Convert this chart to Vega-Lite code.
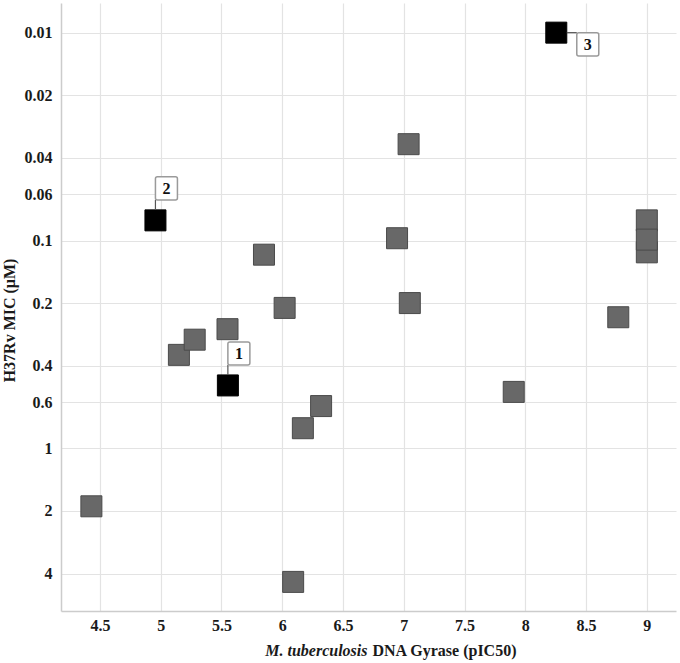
{
  "$schema": "https://vega.github.io/schema/vega-lite/v6.json",
  "width": 615,
  "height": 608,
  "autosize": {"type": "none"},
  "padding": {"left": 61, "top": 3, "right": 4, "bottom": 52},
  "background": "white",
  "config": {
    "view": {"stroke": null},
    "font": "Liberation Serif",
    "axis": {
      "labelFont": "Liberation Serif",
      "labelFontWeight": "bold",
      "labelFontSize": 16,
      "labelColor": "#1a1a1a",
      "titleFont": "Liberation Serif",
      "titleFontWeight": "bold",
      "titleFontSize": 16,
      "titleColor": "#1a1a1a",
      "gridColor": "#e3e3e3",
      "gridWidth": 1.2,
      "domainColor": "#cccccc",
      "domainWidth": 1.5,
      "ticks": false
    }
  },
  "data": {
    "values": [
      {"pic50": 4.43, "mic": 1.9, "label": "", "group": "other"},
      {"pic50": 5.15, "mic": 0.355, "label": "", "group": "other"},
      {"pic50": 5.28, "mic": 0.3, "label": "", "group": "other"},
      {"pic50": 5.55, "mic": 0.267, "label": "", "group": "other"},
      {"pic50": 5.85, "mic": 0.117, "label": "", "group": "other"},
      {"pic50": 6.02, "mic": 0.211, "label": "", "group": "other"},
      {"pic50": 6.09, "mic": 4.39, "label": "", "group": "other"},
      {"pic50": 6.17, "mic": 0.8, "label": "", "group": "other"},
      {"pic50": 6.32, "mic": 0.626, "label": "", "group": "other"},
      {"pic50": 6.945, "mic": 0.0975, "label": "", "group": "other"},
      {"pic50": 7.04, "mic": 0.0344, "label": "", "group": "other"},
      {"pic50": 7.05, "mic": 0.2, "label": "", "group": "other"},
      {"pic50": 7.905, "mic": 0.535, "label": "", "group": "other"},
      {"pic50": 8.765, "mic": 0.234, "label": "", "group": "other"},
      {"pic50": 9.0, "mic": 0.08, "label": "", "group": "other"},
      {"pic50": 9.0, "mic": 0.114, "label": "", "group": "other"},
      {"pic50": 9.0, "mic": 0.099, "label": "", "group": "other"},
      {"pic50": 4.957, "mic": 0.08, "label": "2", "group": "highlight"},
      {"pic50": 5.553, "mic": 0.498, "label": "1", "group": "highlight"},
      {"pic50": 8.255, "mic": 0.01, "label": "3", "group": "highlight"}
    ]
  },
  "resolve": {"axis": {"x": "independent"}},
  "layer": [
    {
      "mark": {"type": "point", "shape": "square", "filled": true, "size": 441, "strokeWidth": 1, "opacity": 1},
      "encoding": {
        "x": {
          "field": "pic50", "type": "quantitative",
          "scale": {"domain": [4.18, 9.24], "nice": false, "zero": false},
          "axis": {
            "orient": "bottom",
            "values": [4.5, 5, 5.5, 6, 6.5, 7, 7.5, 8, 8.5, 9],
            "format": "~g",
            "labelPadding": 6,
            "title": "DNA Gyrase (pIC50)",
            "titleAlign": "left",
            "titleAnchor": null,
            "titleX": 311,
            "titleY": 44,
            "titleBaseline": "alphabetic"
          }
        },
        "y": {
          "field": "mic", "type": "quantitative",
          "scale": {"type": "log", "domain": [0.0072, 6.06], "reverse": true, "nice": false},
          "title": "H37Rv MIC (μM)",
          "axis": {
            "values": [0.01, 0.02, 0.04, 0.06, 0.1, 0.2, 0.4, 0.6, 1, 2, 4],
            "format": "~g",
            "labelPadding": 9,
            "titleX": -52,
            "titleY": 317,
            "titleAnchor": null,
            "titleAlign": "center",
            "titleBaseline": "middle"
          }
        },
        "fill": {"field": "group", "type": "nominal", "scale": {"domain": ["other", "highlight"], "range": ["#686868", "#000000"]}, "legend": null},
        "stroke": {"field": "group", "type": "nominal", "scale": {"domain": ["other", "highlight"], "range": ["#4a4a4a", "#000000"]}, "legend": null}
      }
    },
    {
      "transform": [{"filter": "datum.label == '1' || datum.label == '2'"}],
      "mark": {"type": "rule", "color": "#555555", "strokeWidth": 1.2, "yOffset": -10.5, "y2Offset": -20.5},
      "encoding": {
        "x": {"field": "pic50", "type": "quantitative", "axis": null},
        "x2": {"field": "pic50"},
        "y": {"field": "mic", "type": "quantitative", "title": "H37Rv MIC (μM)"},
        "y2": {"field": "mic"}
      }
    },
    {
      "transform": [{"filter": "datum.label == '3'"}],
      "mark": {"type": "rule", "color": "#555555", "strokeWidth": 1.2, "xOffset": 10.5, "x2Offset": 20.5},
      "encoding": {
        "x": {"field": "pic50", "type": "quantitative", "axis": null},
        "x2": {"field": "pic50"},
        "y": {"field": "mic", "type": "quantitative", "title": "H37Rv MIC (μM)"},
        "y2": {"field": "mic"}
      }
    },
    {
      "transform": [{"filter": "datum.label == '1' || datum.label == '2'"}],
      "mark": {"type": "point", "shape": "M-0.82,-1.05H0.82Q1,-1.05 1,-0.87V0.87Q1,1.05 0.82,1.05H-0.82Q-1,1.05 -1,0.87V-0.87Q-1,-1.05 -0.82,-1.05Z", "filled": true, "fill": "white", "stroke": "#9a9a9a", "strokeWidth": 1.5, "size": 484, "opacity": 1, "xOffset": 11, "yOffset": -32},
      "encoding": {
        "x": {"field": "pic50", "type": "quantitative", "axis": null},
        "y": {"field": "mic", "type": "quantitative", "title": "H37Rv MIC (μM)"}
      }
    },
    {
      "transform": [{"filter": "datum.label == '3'"}],
      "mark": {"type": "point", "shape": "M-0.82,-1.05H0.82Q1,-1.05 1,-0.87V0.87Q1,1.05 0.82,1.05H-0.82Q-1,1.05 -1,0.87V-0.87Q-1,-1.05 -0.82,-1.05Z", "filled": true, "fill": "white", "stroke": "#9a9a9a", "strokeWidth": 1.5, "size": 484, "opacity": 1, "xOffset": 31.5, "yOffset": 11.7},
      "encoding": {
        "x": {"field": "pic50", "type": "quantitative", "axis": null},
        "y": {"field": "mic", "type": "quantitative", "title": "H37Rv MIC (μM)"}
      }
    },
    {
      "transform": [{"filter": "datum.label == '1' || datum.label == '2'"}],
      "mark": {"type": "text", "font": "Liberation Serif", "fontWeight": "bold", "fontSize": 16, "color": "#111111", "align": "center", "baseline": "middle", "xOffset": 11, "yOffset": -31},
      "encoding": {
        "x": {"field": "pic50", "type": "quantitative", "axis": null},
        "y": {"field": "mic", "type": "quantitative", "title": "H37Rv MIC (μM)"},
        "text": {"field": "label"}
      }
    },
    {
      "transform": [{"filter": "datum.label == '3'"}],
      "mark": {"type": "text", "font": "Liberation Serif", "fontWeight": "bold", "fontSize": 16, "color": "#111111", "align": "center", "baseline": "middle", "xOffset": 31.5, "yOffset": 12.7},
      "encoding": {
        "x": {
          "field": "pic50", "type": "quantitative",
          "axis": {
            "orient": "bottom",
            "domain": false,
            "labels": false,
            "ticks": false,
            "grid": false,
            "title": "M. tuberculosis",
            "titleFontStyle": "italic",
            "titleAlign": "right",
            "titleAnchor": null,
            "titleX": 306,
            "titleY": 44,
            "titleBaseline": "alphabetic"
          }
        },
        "y": {"field": "mic", "type": "quantitative", "title": "H37Rv MIC (μM)"},
        "text": {"field": "label"}
      }
    }
  ]
}
